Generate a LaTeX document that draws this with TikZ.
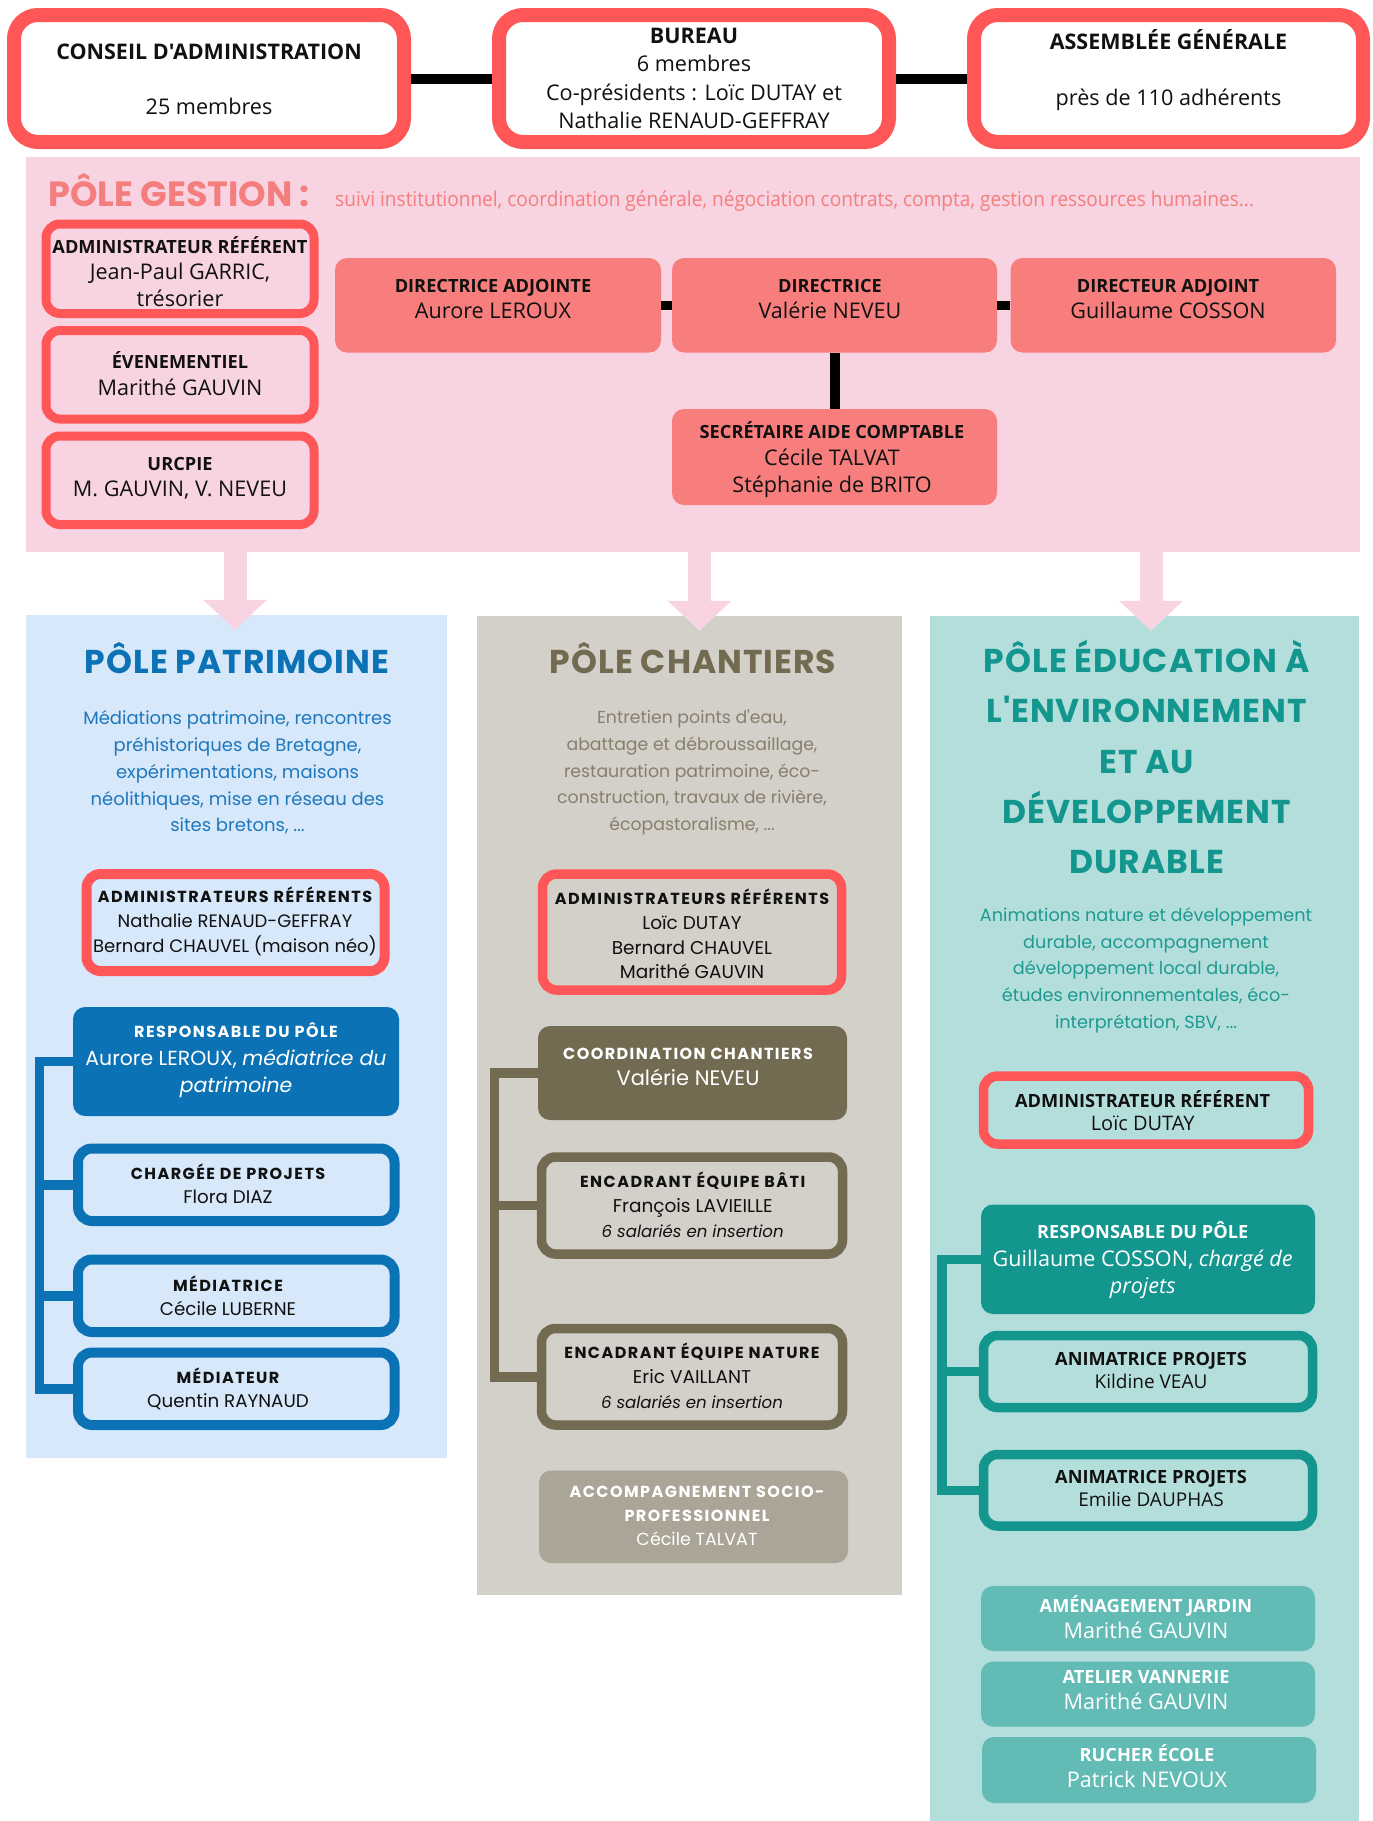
\documentclass[tikz,border=0pt]{standalone}
\usepackage{fontspec}
\setmainfont{Open Sans}
\newfontfamily\osf{Open Sans}
\newfontfamily\osc{Open Sans}[FakeStretch=0.93]
\newfontfamily\wide{Poppins}
\newfontfamily\widesp{Poppins}[LetterSpace=9]
\newfontfamily\widetitle{Poppins}[LetterSpace=3]
\usetikzlibrary{arrows.meta,calc,fit}
\definecolor{red1}{HTML}{FF5757}
\definecolor{pinkbg}{HTML}{F8D3E1}
\definecolor{coral}{HTML}{F87E7D}
\definecolor{coraltxt}{HTML}{F47E7E}
\definecolor{bluebg}{HTML}{D6E8FA}
\definecolor{blue1}{HTML}{0B72B5}
\definecolor{blue2}{HTML}{1F77BC}
\definecolor{greybg}{HTML}{D3D0C9}
\definecolor{brown1}{HTML}{736A52}
\definecolor{browntxt}{HTML}{887E6C}
\definecolor{grey2}{HTML}{ABA597}
\definecolor{tealbg}{HTML}{B4DEDC}
\definecolor{teal1}{HTML}{12968E}
\definecolor{tealtxt}{HTML}{1E9A90}
\definecolor{teal2}{HTML}{62BBB4}
\definecolor{ink}{HTML}{111111}
\newcommand\hb[2]{{\fontsize{#1}{#1}\selectfont\bfseries #2}}
\newcommand\hw[2]{{\widesp\fontsize{#1}{#1}\selectfont\bfseries #2}}
\begin{document}
\begin{tikzpicture}[x=1pt,y=-1pt,
  sb/.style n args={3}{draw=#1,line width=#2,rounded corners=#3,inner sep=0pt},
  fb/.style n args={2}{fill=#1,rounded corners=#2,inner sep=0pt},
  bg/.style={fill=#1,inner sep=0pt},
  t/.style={align=center,inner sep=0pt,text=ink},
  link/.style={draw=black,line width=#1},
  brk/.style={draw=#1,line width=9.5pt,line join=miter},
  parrow/.style={draw=pinkbg,line width=23pt,-{Triangle[width=62pt,length=30pt]}}]
\useasboundingbox (0,0) rectangle (1373,1821);
\fill[white] (0,0) rectangle (1373,1821);

% ---------- top row
\node[sb={red1}{14pt}{24pt},fill=white,fit={(14,15) (404,142)}] (conseil) {};
\node[sb={red1}{14pt}{24pt},fill=white,fit={(499,15) (889,142)}] (bureau) {};
\node[sb={red1}{14pt}{24pt},fill=white,fit={(974,15) (1363,142)}] (ag) {};
\draw[link=10pt] (conseil.east) -- (bureau.west);
\draw[link=10pt] (bureau.east) -- (ag.west);
\node[t,font=\osf\fontsize{21.6}{55}\selectfont] (conseilT) at (209,79.5)
  {\hb{21.5}{CONSEIL D'ADMINISTRATION}\\25 membres};
\node[t,font=\osf\fontsize{21.6}{28.3}\selectfont] (bureauT) at (694,78.5)
  {\hb{21.5}{BUREAU}\\6 membres\\Co-présidents : Loïc DUTAY et\\Nathalie RENAUD-GEFFRAY};
\node[t,font=\osf\fontsize{21.6}{56}\selectfont] (agT) at (1168.5,70)
  {\hb{21.5}{ASSEMBLÉE GÉNÉRALE}\\près de 110 adhérents};

% ---------- pôle gestion
\node[bg=pinkbg,fit={(26,157) (1360,552)}] (gestion) {};
\node[anchor=base west,inner sep=0pt,text=coraltxt,font=\wide\bfseries\fontsize{35}{35}\selectfont] (gestT) at (48,206.7) {PÔLE GESTION :};
\node[anchor=base west,inner sep=0pt,text=coraltxt,font=\osc\fontsize{20.5}{20.5}\selectfont] (gestS) at (335,206)
  {suivi institutionnel, coordination générale, négociation contrats, compta, gestion ressources humaines...};

\node[sb={red1}{9pt}{14pt},fit={(46,224) (314,313.5)}] (gadm) {};
\node[sb={red1}{9pt}{14pt},fit={(46,330.5) (314,419)}] (geve) {};
\node[sb={red1}{9pt}{14pt},fit={(46,436) (314,524.5)}] (gurc) {};
\node[t,font=\osf\fontsize{21.6}{26.5}\selectfont] (gadmT) at (180,271.5)
  {\hb{18.2}{ADMINISTRATEUR RÉFÉRENT}\\Jean-Paul GARRIC,\\trésorier};
\node[t,font=\osf\fontsize{21.6}{26.5}\selectfont] (geveT) at (180,373.5)
  {\hb{18.2}{ÉVENEMENTIEL}\\Marithé GAUVIN};
\node[t,font=\osf\fontsize{21.6}{26.5}\selectfont] (gurcT) at (180,478.5)
  {\hb{18.2}{URCPIE}\\M. GAUVIN, V. NEVEU};

\node[fb={coral}{12pt},fit={(335,258) (661,352.5)}] (da) {};
\node[fb={coral}{12pt},fit={(672,258) (997,352.5)}] (dir) {};
\node[fb={coral}{12pt},fit={(1010.5,258) (1336,352.5)}] (dad) {};
\node[fb={coral}{12pt},fit={(672,409) (997,505)}] (sec) {};
\draw[link=9.5pt] (da.east) -- (dir.west);
\draw[link=9.5pt] (dir.east) -- (dad.west);
\draw[link=10pt] (dir.south) -- (sec.north);
\node[t,font=\osf\fontsize{21.6}{26}\selectfont] (daT) at (493,299.5)
  {\hb{18.2}{DIRECTRICE ADJOINTE}\\Aurore LEROUX};
\node[t,font=\osf\fontsize{21.6}{26}\selectfont] (dirT) at (830,299.5)
  {\hb{18.2}{DIRECTRICE}\\Valérie NEVEU};
\node[t,font=\osf\fontsize{21.6}{26}\selectfont] (dadT) at (1168,299.5)
  {\hb{18.2}{DIRECTEUR ADJOINT}\\Guillaume COSSON};
\node[t,font=\osf\fontsize{21.6}{27}\selectfont] (secT) at (832,459.5)
  {\hb{18.2}{SECRÉTAIRE AIDE COMPTABLE}\\Cécile TALVAT\\Stéphanie de BRITO};

% ---------- pole backgrounds
\node[bg=bluebg,fit={(26,615) (447,1458)}] (pat) {};
\node[bg=greybg,fit={(477,616) (902,1595)}] (cha) {};
\node[bg=tealbg,fit={(930,616) (1359,1821)}] (edu) {};

\coordinate (a1) at (235,0);
\coordinate (a2) at (699.5,0);
\coordinate (a3) at (1151,0);
\draw[parrow] (gestion.south -| a1) -- ($(pat.north -| a1)+(0,15)$);
\draw[parrow] (gestion.south -| a2) -- ($(cha.north -| a2)+(0,15)$);
\draw[parrow] (gestion.south -| a3) -- ($(edu.north -| a3)+(0,15)$);

% ---------- pôle patrimoine
\node[anchor=base,inner sep=0pt,text=blue1,font=\widetitle\bfseries\fontsize{33}{33}\selectfont] (patT) at (237,673) {PÔLE PATRIMOINE};
\node[t,text=blue2,font=\wide\fontsize{18}{26.75}\selectfont] (patD) at (237.5,772.5)
  {Médiations patrimoine, rencontres\\préhistoriques de Bretagne,\\expérimentations, maisons\\néolithiques, mise en réseau des\\sites bretons, ...};
\node[sb={red1}{10pt}{14pt},fit={(86.5,874) (384.5,971)}] (padm) {};
\node[t,font=\wide\fontsize{18}{25}\selectfont] (padmT) at (235,921)
  {\hw{16}{ADMINISTRATEURS RÉFÉRENTS}\\Nathalie RENAUD-GEFFRAY\\Bernard CHAUVEL (maison néo)};
\node[fb={blue1}{12pt},fit={(73,1007) (399,1116)}] (presp) {};
\node[t,text=white,font=\wide\fontsize{20.4}{27.5}\selectfont] (prespT) at (236,1060.5)
  {\hw{16}{RESPONSABLE DU PÔLE}\\Aurore LEROUX, \textit{médiatrice du}\\\textit{patrimoine}};
\node[sb={blue1}{10pt}{14pt},fit={(78,1148.5) (394.5,1221)}] (pcha) {};
\node[sb={blue1}{10pt}{14pt},fit={(78,1259.5) (394.5,1332)}] (pmed1) {};
\node[sb={blue1}{10pt}{14pt},fit={(78,1352.5) (394.5,1425)}] (pmed2) {};
\node[t,font=\wide\fontsize{18.3}{24}\selectfont] (pchaT) at (228,1184)
  {\hw{16}{CHARGÉE DE PROJETS}\\Flora DIAZ};
\node[t,font=\wide\fontsize{18.3}{24}\selectfont] (pmed1T) at (228,1295.5)
  {\hw{16}{MÉDIATRICE}\\Cécile LUBERNE};
\node[t,font=\wide\fontsize{18.3}{24}\selectfont] (pmed2T) at (228,1388.5)
  {\hw{16}{MÉDIATEUR}\\Quentin RAYNAUD};
\coordinate (px) at (39.5,0);
\draw[brk=blue1] (presp.west) -- (presp.west -| px) |- (pmed2.west);
\draw[brk=blue1] (pcha.west) -- (pcha.west -| px);
\draw[brk=blue1] (pmed1.west) -- (pmed1.west -| px);

% ---------- pôle chantiers
\node[anchor=base,inner sep=0pt,text=brown1,font=\widetitle\bfseries\fontsize{33}{33}\selectfont] (chaT) at (693,673.6) {PÔLE CHANTIERS};
\node[t,text=browntxt,font=\wide\fontsize{17.3}{26.75}\selectfont] (chaD) at (692,772.5)
  {Entretien points d'eau,\\abattage et débroussaillage,\\restauration patrimoine, éco-\\construction, travaux de rivière,\\écopastoralisme, ...};
\node[sb={red1}{9.5pt}{14pt},fit={(542.5,874) (841.5,990)}] (cadm) {};
\node[t,font=\wide\fontsize{18.5}{24.8}\selectfont] (cadmT) at (692,934)
  {\hw{16}{ADMINISTRATEURS RÉFÉRENTS}\\Loïc DUTAY\\Bernard CHAUVEL\\Marithé GAUVIN};
\node[fb={brown1}{12pt},fit={(538,1026) (847,1120)}] (ccoo) {};
\node[t,text=white,font=\wide\fontsize{21}{26}\selectfont] (ccooT) at (688,1067)
  {\hw{16}{COORDINATION CHANTIERS}\\Valérie NEVEU};
\node[sb={brown1}{9.5pt}{14pt},fit={(541.5,1157) (842.5,1254)}] (cbat) {};
\node[t,font=\wide\fontsize{18.5}{24.8}\selectfont] (cbatT) at (692.7,1205)
  {\hw{16}{ENCADRANT ÉQUIPE BÂTI}\\François LAVIEILLE\\{\fontsize{16.6}{16.6}\selectfont\itshape 6 salariés en insertion}};
\node[sb={brown1}{9.5pt}{14pt},fit={(541.5,1328.5) (842.5,1425)}] (cnat) {};
\node[t,font=\wide\fontsize{18.5}{24.8}\selectfont] (cnatT) at (692,1375.5)
  {\hw{16}{ENCADRANT ÉQUIPE NATURE}\\Eric VAILLANT\\{\fontsize{16.6}{16.6}\selectfont\itshape 6 salariés en insertion}};
\node[fb={grey2}{12pt},fit={(539,1470.5) (848,1563)}] (cacc) {};
\node[t,text=white,font=\wide\fontsize{17.5}{24}\selectfont] (caccT) at (697,1515.5)
  {\hw{16}{ACCOMPAGNEMENT SOCIO-}\\\hw{16}{PROFESSIONNEL}\\Cécile TALVAT};
\coordinate (cx) at (494.5,0);
\draw[brk=brown1] (ccoo.west) -- (ccoo.west -| cx) |- (cnat.west);
\draw[brk=brown1] (cbat.west) -- (cbat.west -| cx);

% ---------- pôle éducation
\node[t,text=teal1,font=\widetitle\bfseries\fontsize{33}{50.2}\selectfont] (eduT) at (1146.7,757)
  {PÔLE ÉDUCATION À\\L'ENVIRONNEMENT\\ET AU\\DÉVELOPPEMENT\\DURABLE};
\node[t,text=tealtxt,font=\wide\fontsize{17.7}{26.6}\selectfont] (eduD) at (1146,970.3)
  {Animations nature et développement\\durable, accompagnement\\développement local durable,\\études environnementales, éco-\\interprétation, SBV, ...};
\node[sb={red1}{9.5pt}{14pt},fit={(983.5,1076) (1308.5,1144)}] (eadm) {};
\node[t,font=\osf\fontsize{20}{23.5}\selectfont] (eadmT) at (1142.7,1110.4)
  {\hb{18.2}{ADMINISTRATEUR RÉFÉRENT}\\Loïc DUTAY};
\node[fb={teal1}{12pt},fit={(981,1204.5) (1315,1314)}] (eresp) {};
\node[t,text=white,font=\osf\fontsize{21.6}{27.5}\selectfont] (erespT) at (1142.7,1260.5)
  {\hb{18.2}{RESPONSABLE DU PÔLE}\\Guillaume COSSON, \textit{chargé de}\\\textit{projets}};
\node[sb={teal1}{9.5pt}{14pt},fit={(983.5,1335.5) (1312.5,1407.5)}] (ean1) {};
\node[t,font=\osf\fontsize{19}{23.3}\selectfont] (ean1T) at (1151,1370.3)
  {\hb{18.2}{ANIMATRICE PROJETS}\\Kildine VEAU};
\node[sb={teal1}{9.5pt}{14pt},fit={(983.5,1454.5) (1312.5,1526)}] (ean2) {};
\node[t,font=\osf\fontsize{19}{23.3}\selectfont] (ean2T) at (1151,1488.5)
  {\hb{18.2}{ANIMATRICE PROJETS}\\Emilie DAUPHAS};
\coordinate (ex) at (942,0);
\draw[brk=teal1] (eresp.west) -- (eresp.west -| ex) |- (ean2.west);
\draw[brk=teal1] (ean1.west) -- (ean1.west -| ex);
\node[fb={teal2}{12pt},fit={(981,1586) (1315,1651)}] (ejar) {};
\node[t,text=white,font=\osf\fontsize{21.6}{26}\selectfont] (ejarT) at (1146,1617)
  {\hb{18.2}{AMÉNAGEMENT JARDIN}\\Marithé GAUVIN};
\node[fb={teal2}{12pt},fit={(981,1661.6) (1315,1726.6)}] (evan) {};
\node[t,text=white,font=\osf\fontsize{21.6}{26}\selectfont] (evanT) at (1146,1690.5)
  {\hb{18.2}{ATELIER VANNERIE}\\Marithé GAUVIN};
\node[fb={teal2}{12pt},fit={(982,1737) (1316,1803)}] (eruc) {};
\node[t,text=white,font=\osf\fontsize{21.6}{26}\selectfont] (erucT) at (1147,1766)
  {\hb{18.2}{RUCHER ÉCOLE}\\Patrick NEVOUX};
\end{tikzpicture}
\end{document}
